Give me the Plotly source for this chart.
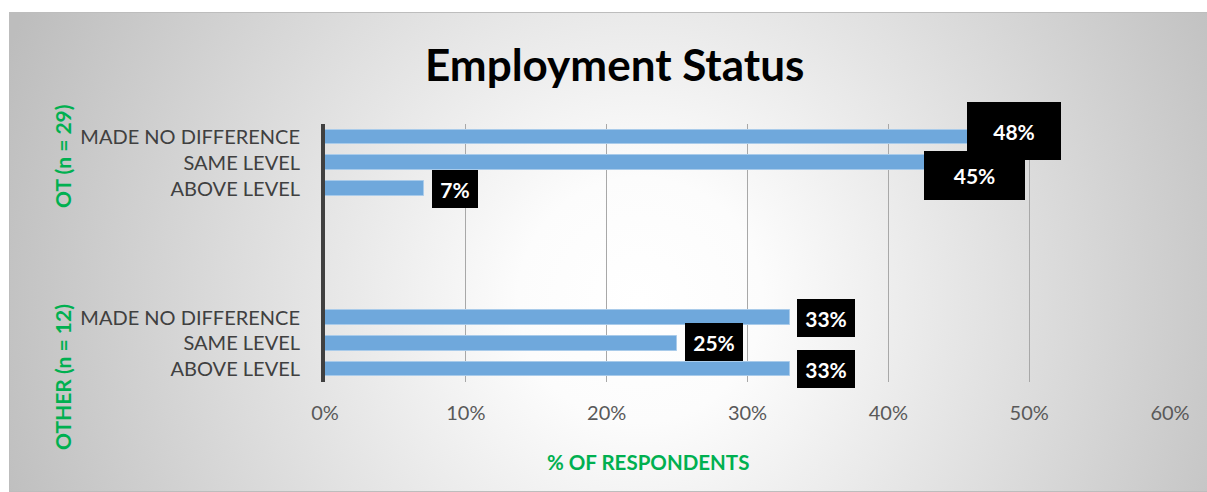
import base64
import plotly.graph_objects as go

# ---- data ----
groups = ["OT (n = 29)", "OTHER (n = 12)"]
responses = ["MADE NO DIFFERENCE", "SAME LEVEL", "ABOVE LEVEL"]
ot_values = [48, 45, 7]
other_values = [33, 25, 33]
x_tick_values = [0, 10, 20, 30, 40, 50, 60]
x_tick_labels = ["0%", "10%", "20%", "30%", "40%", "50%", "60%"]
title_text = "Employment Status"
x_title_text = "% OF RESPONDENTS"

# ---- layout geometry (pixels) ----
W, H = 1207, 492
ML, MR, MT, MB = 325, 37, 124, 110
PW, PH = W - ML - MR, H - MT - MB


def px_x(px):
    return (px - ML) / PW


def px_y(py):
    return (H - MB - py) / PH


FONT = "Lato, 'Open Sans', sans-serif"
GREEN = "#00B050"
BAR = "#6FA8DC"

group_start = [0, 7]  # slot index of the first bar of each group
group_values = [ot_values, other_values]

ys, xs, texts = [], [], []
for g, vals in enumerate(group_values):
    for i, v in enumerate(vals):
        ys.append(group_start[g] + i)
        xs.append(v)
        texts.append(f"{v}%")

fig = go.Figure()
fig.add_trace(go.Bar(
    x=xs, y=ys, orientation="h", width=0.57,
    marker=dict(color=BAR, line=dict(color="#A9CBEA", width=1)),
    hoverinfo="skip", showlegend=False,
))

# data label boxes (style offsets/sizes, per label)
label_shift = [(13, 6), (16, -13), (31, 0), (36, 0), (37, 1), (36, 0)]
label_box = [(94, 58), (101, 49), (46, 38), (58, 38), (58, 38), (58, 38)]
annotations = []
for k, (x, y, t) in enumerate(zip(xs, ys, texts)):
    annotations.append(dict(
        x=x, y=y, xref="x", yref="y", text=f"<b>{t}</b>", showarrow=False,
        xanchor="center", yanchor="middle",
        xshift=label_shift[k][0], yshift=label_shift[k][1],
        width=label_box[k][0], height=label_box[k][1],
        bgcolor="#000000", borderpad=0, borderwidth=0,
        font=dict(family=FONT, size=21, color="#FFFFFF"),
    ))

# group labels (vertical)
group_label_py = [156, 377]
for g, name in enumerate(groups):
    annotations.append(dict(
        x=px_x(62), y=px_y(group_label_py[g]), xref="paper", yref="paper",
        text=f"<b>{name}</b>", showarrow=False, textangle=-90,
        xanchor="center", yanchor="middle",
        font=dict(family=FONT, size=21, color=GREEN),
    ))

# title
annotations.append(dict(
    x=px_x(614), y=px_y(64), xref="paper", yref="paper",
    text=f"<b>{title_text}</b>", showarrow=False,
    xanchor="center", yanchor="middle",
    font=dict(family=FONT, size=44, color="#000000"),
))
# x axis title
annotations.append(dict(
    x=px_x(648), y=px_y(462), xref="paper", yref="paper",
    text=f"<b>{x_title_text}</b>", showarrow=False,
    xanchor="center", yanchor="middle",
    font=dict(family=FONT, size=20.5, color=GREEN),
))

# radial gradient background (chart area)
bx0, by0, bx1, by1 = 9, 12, W, H
bw, bh = bx1 - bx0, by1 - by0
svg = (
    f"<svg xmlns='http://www.w3.org/2000/svg' width='{bw}' height='{bh}' "
    f"viewBox='0 0 {bw} {bh}' preserveAspectRatio='none'>"
    "<defs><radialGradient id='g' gradientUnits='userSpaceOnUse' "
    f"cx='{640 - bx0}' cy='{300 - by0}' r='680'>"
    "<stop offset='0' stop-color='#FFFFFF'/>"
    "<stop offset='0.18' stop-color='#FCFCFC'/>"
    "<stop offset='1' stop-color='#BDBDBD'/>"
    "</radialGradient></defs>"
    f"<rect x='0' y='0' width='{bw}' height='{bh}' fill='url(#g)'/></svg>"
)
src = "data:image/svg+xml;base64," + base64.b64encode(svg.encode()).decode()

fig.update_layout(
    width=W, height=H,
    margin=dict(l=ML, r=MR, t=MT, b=MB, pad=0),
    paper_bgcolor="#FFFFFF",
    plot_bgcolor="rgba(0,0,0,0)",
    bargap=0,
    annotations=annotations,
    images=[dict(
        source=src, xref="paper", yref="paper",
        x=px_x(bx0), y=px_y(by0),
        sizex=bw / PW, sizey=bh / PH,
        xanchor="left", yanchor="top", sizing="stretch", layer="below",
    )],
    shapes=[dict(
        type="rect", xref="paper", yref="paper",
        x0=px_x(bx0 + 0.5), y0=px_y(by1 - 0.5), x1=px_x(bx1 + 2), y1=px_y(by0 + 0.5),
        line=dict(color="#BDBDBD", width=1), fillcolor="rgba(0,0,0,0)", layer="below",
    )],
    xaxis=dict(
        range=[0, 60], tickvals=x_tick_values, ticktext=x_tick_labels,
        showgrid=True, gridcolor="#A8A8A8", gridwidth=1,
        zeroline=False, showline=False, ticks="",
        tickfont=dict(family=FONT, size=20, color="#595959"),
        ticklabelstandoff=17, fixedrange=True,
    ),
    yaxis=dict(
        range=[9.5, -0.5],
        tickvals=[group_start[g] + i for g in range(len(groups)) for i in range(len(responses))],
        ticktext=responses * len(groups),
        showgrid=False, zeroline=False, ticks="",
        showline=True, linecolor="#404040", linewidth=4,
        tickfont=dict(family=FONT, size=20, color="#404040"),
        ticklabelstandoff=17, fixedrange=True,
    ),
)

fig.write_html("out.html")
